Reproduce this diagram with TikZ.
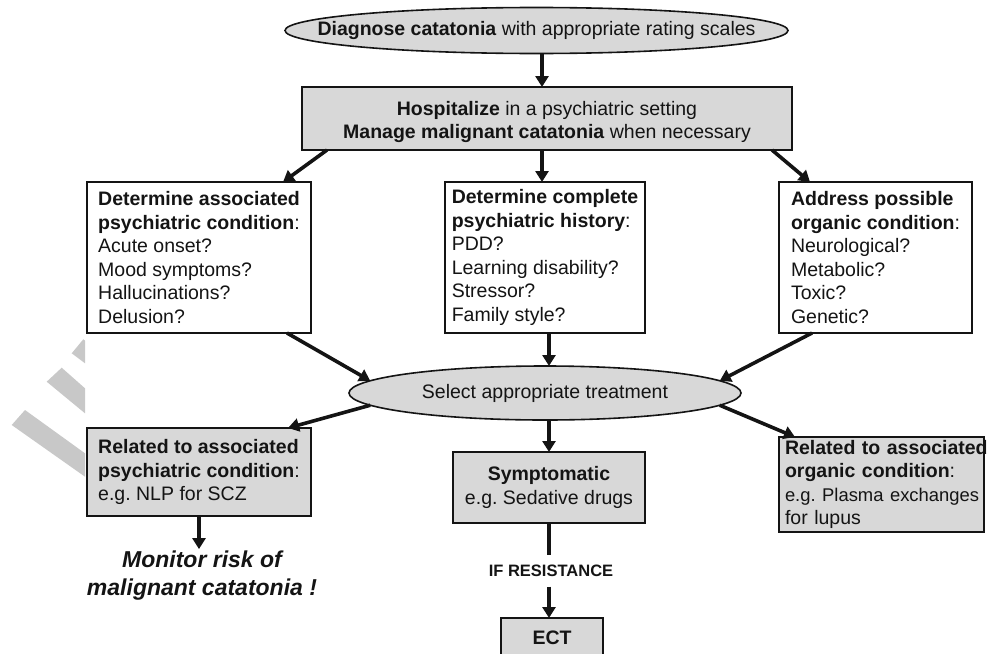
\documentclass[tikz,border=0pt]{standalone}
\usepackage{fontspec}
\setmainfont{Liberation Sans}
\usetikzlibrary{shapes.geometric,arrows.meta}
\definecolor{boxfill}{HTML}{D8D8D8}
\definecolor{ink}{HTML}{141414}
\definecolor{wmark}{HTML}{C8C8C8}
\tikzset{
  txt/.style={font=\fontsize{19.5}{23.5}\selectfont, text=ink},
  box/.style={txt, draw=ink, line width=1.8pt, rectangle, inner sep=0pt, outer sep=0pt},
  graybox/.style={box, fill=boxfill},
  whitebox/.style={box, fill=white},
  oval/.style={txt, draw=ink, line width=1.6pt, ellipse, fill=boxfill, inner ysep=0pt, outer sep=0pt},
  arr/.style={draw=ink, line width=3.6pt, -{Triangle[length=11pt,width=13pt]}},
  plain/.style={draw=ink, line width=3.6pt},
}
\begin{document}
\begin{tikzpicture}[x=1pt,y=-1pt]
\useasboundingbox (0,0) rectangle (987,653);
\clip (0,0) rectangle (987,653);
% watermark stripes
\fill[wmark] (71.7,353.3) -- (83.3,339.3) -- (85,340.5) -- (85,363.3) -- cycle;
\fill[wmark] (46.7,381.7) -- (61.7,367.7) -- (85,388.3) -- (85,413.3) -- cycle;
\fill[wmark] (11.7,425) -- (25,410) -- (85,453.3) -- (85,476.7) -- cycle;

% nodes
\node[oval, inner xsep=-50pt, minimum width=503pt, minimum height=46pt] (top) at (536.5,30.5)
  {\textbf{Diagnose catatonia} with appropriate rating scales};
\node[graybox, align=center, minimum width=490pt, minimum height=63pt] (hosp) at (547,118.5)
  {\rule{0pt}{21pt}\textbf{Hospitalize} in a psychiatric setting\\ \textbf{Manage malignant catatonia} when necessary};
\node[whitebox, align=left, minimum width=224pt, minimum height=151pt] (A) at (199,257.5)
  {\textbf{Determine associated}\\ \textbf{psychiatric condition}:\\ Acute onset?\\ Mood symptoms?\\ Hallucinations?\\ Delusion?};
\node[whitebox, align=left, minimum width=200pt, minimum height=151pt] (B) at (545,257.5)
  {\textbf{Determine complete}\\ \textbf{psychiatric history}:\\ PDD?\\ Learning disability?\\ Stressor?\\ Family style?};
\node[whitebox, align=left, minimum width=193pt, minimum height=151pt] (C) at (875.5,257.5)
  {\textbf{Address possible}\\ \textbf{organic condition}:\\ Neurological?\\ Metabolic?\\ Toxic?\\ Genetic?};
\node[oval, inner xsep=0pt, minimum width=392pt, minimum height=54pt] (sel) at (545,393)
  {Select appropriate treatment};
\node[graybox, align=left, minimum width=224pt, minimum height=88pt] (D) at (199,472)
  {\textbf{Related to associated}\\ \textbf{psychiatric condition}:\\ e.g.\ NLP for SCZ};
\node[graybox, align=center, minimum width=192pt, minimum height=71pt] (E) at (549,487.5)
  {\textbf{Symptomatic}\\ e.g.\ Sedative drugs};
\node[graybox, align=left, text width=193pt, inner xsep=6pt, minimum height=95pt, anchor=north west] (F) at (779,437)
  {\mbox{\textbf{Related to associated}}\\ \mbox{\textbf{organic condition}:}\\ \mbox{\fontsize{18.4}{23.5}\selectfont e.g.\ Plasma exchanges}\\ for lupus};
\node[text=ink, align=center, font=\fontsize{23}{28}\selectfont\bfseries\itshape, inner sep=2pt] (mon) at (202,576)
  {Monitor risk of\\ malignant catatonia !};
\node[text=ink, font=\fontsize{16.5}{19}\selectfont\bfseries, inner xsep=2pt, inner ysep=9.5pt] (res) at (551,571)
  {IF RESISTANCE};
\node[graybox, align=center, minimum width=102pt, minimum height=40pt, font=\fontsize{19.5}{23.5}\selectfont\bfseries] (ect) at (552,638)
  {ECT};

% connectors
\draw[arr] ([xshift=5.5pt]top.south) -- ([xshift=-5pt]hosp.north);
\draw[arr] ([xshift=25pt]hosp.south west) -- ([xshift=-28pt]A.north east);
\draw[arr] ([xshift=-5pt]hosp.south) -- ([xshift=-3pt]B.north);
\draw[arr] ([xshift=-20pt]hosp.south east) -- ([xshift=31pt]C.north west);
\draw[arr] ([xshift=-24pt]A.south east) -- (sel.176);
\draw[arr] ([xshift=4pt]B.south) -- ([xshift=4pt]sel.north);
\draw[arr] ([xshift=33pt]C.south west) -- (sel.4);
\draw[arr] (sel.184) -- ([xshift=-23pt]D.north east);
\draw[arr] ([xshift=4pt]sel.south) -- (E.north);
\draw[arr] (sel.-4) -- ([xshift=16pt]F.north west);
\draw[arr] (D.south) -- (D.south |- mon.north);
\draw[plain] (E.south) -- (E.south |- res.north);
\draw[arr] (E.south |- res.south) -- (E.south |- ect.north);
\end{tikzpicture}
\end{document}
